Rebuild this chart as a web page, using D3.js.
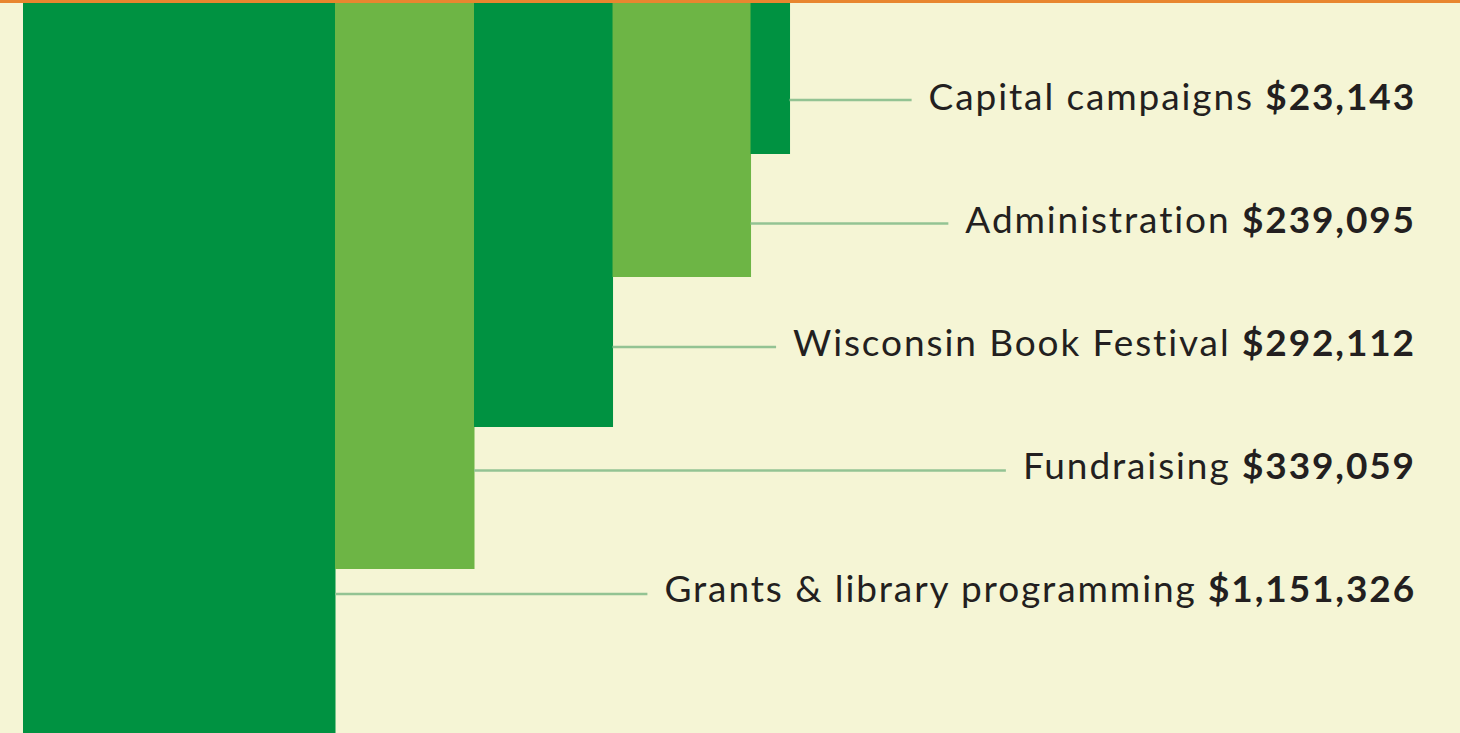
<!DOCTYPE html>
<html>
<head>
<meta charset="utf-8">
<script src="https://cdn.jsdelivr.net/npm/d3@7"></script>
<style>
  html, body { margin: 0; padding: 0; background: #f5f5d5; overflow: hidden; }
  svg { display: block; }
</style>
</head>
<body>
<script>
// DATA (top label to bottom label)
var categories = ['Capital campaigns', 'Administration', 'Wisconsin Book Festival', 'Fundraising', 'Grants & library programming'];
var amounts = [23143, 239095, 292112, 339059, 1151326];
var amountLabels = ['$23,143', '$239,095', '$292,112', '$339,059', '$1,151,326'];

var w = 1460, h = 733;
var top0 = 3;
var textRight = 1416;

var svg = d3.select('body').append('svg')
  .attr('width', w)
  .attr('height', h)
  .style('background-color', '#f5f5d5');

// orange rule across the top
svg.append('rect')
  .attr('x', 0).attr('y', 0)
  .attr('width', w).attr('height', top0)
  .attr('fill', '#e8862f');

// bar depth (bottom edge) and bar width, piecewise scales on the amount
var yScale = d3.scaleLinear()
  .domain([23143, 239095, 292112, 339059, 1151326])
  .range([154, 277, 427, 569, 780]);
var widthScale = d3.scaleLinear()
  .domain([23143, 239095, 339059, 1151326])
  .range([39, 138, 139, 312]);

// bars go left to right from the biggest amount to the smallest
var bars = categories.map(function(c, i) {
  return { name: c, value: amounts[i], label: amountLabels[i], row: i };
}).reverse();

var x = 23;
bars.forEach(function(d, i) {
  d.x = x;
  d.w = widthScale(d.value);
  d.dark = (i % 2 === 0);
  x += d.w;
});

// label rows
var rowScale = d3.scaleLinear().domain([0, 4]).range([97, 589]);
var lineScale = d3.scaleLinear().domain([0, 4]).range([100, 594]);

var g = svg.selectAll('g.item')
  .data(bars)
  .join('g')
  .attr('class', 'item');

g.append('rect')
  .attr('x', function(d) { return d.x; })
  .attr('y', top0)
  .attr('width', function(d) { return d.w + 0.5; })
  .attr('height', function(d) { return yScale(d.value) - top0; })
  .attr('fill', function(d) { return d.dark ? '#009241' : '#6db545'; });

var txt = g.append('text')
  .attr('x', textRight)
  .attr('y', function(d) { return rowScale(d.row); })
  .attr('dy', '0.36em')
  .attr('text-anchor', 'end')
  .style('font-family', 'Lato, "Open Sans", sans-serif')
  .style('font-size', '37px')
  .style('letter-spacing', '1.9px')
  .attr('fill', '#231f20');
txt.append('tspan').text(function(d) { return d.name + ' '; });
txt.append('tspan').style('font-weight', 'bold').text(function(d) { return d.label; });

// leader lines from the bar edge to just before the label
g.each(function(d) {
  var t = d3.select(this).select('text').node();
  var start = textRight - t.getComputedTextLength();
  d3.select(this).insert('line', 'text')
    .attr('x1', d.x + d.w)
    .attr('x2', start - 17)
    .attr('y1', lineScale(d.row))
    .attr('y2', lineScale(d.row))
    .attr('stroke', '#93c393')
    .attr('stroke-width', 2.5);
});
</script>
</body>
</html>
